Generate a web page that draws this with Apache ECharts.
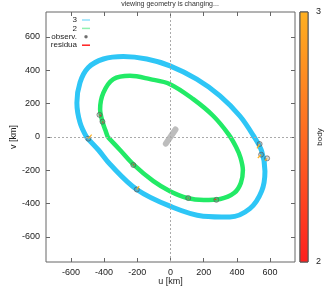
<!DOCTYPE html>
<html><head><meta charset="utf-8">
<script src="https://cdn.jsdelivr.net/npm/echarts@6/dist/echarts.min.js"></script>
<style>html,body{margin:0;padding:0;background:#fff}#c{width:327px;height:290px}</style>
</head><body><div id="c"></div>
<script>
const titleText = 'viewing geometry is changing...';
const tickValues = [-600, -400, -200, 0, 200, 400, 600];
const axisRange = [-750, 750];
const bodyTicks = [2, 3];
const bodyPalette = ['#ff1f1f', '#ff6a22', '#ffb020'];
// body 3 orbit band (u, v in km)
const body3U = [-504, -545, -564, -545, -495, -404, -284, -143, -3, 158, 298, 418, 498, 549, 569, 549, 478, 358, 197, -3, -203, -364, -434, -504];
const body3V = [-4, 86, 206, 327, 417, 468, 483, 468, 427, 347, 247, 126, 10, -84, -205, -325, -430, -480, -475, -415, -315, -164, -78, -4];
// body 2 orbit band
const body2U = [-378, -392, -410, -424, -404, -344, -244, -123, -3, 137, 258, 350, 395, 422, 436, 424, 385, 300, 200, 100, -3, -103, -224, -304, -378];
const body2V = [0, 40, 92, 166, 266, 347, 367, 347, 317, 227, 126, 16, -60, -125, -200, -275, -335, -372, -378, -366, -325, -265, -164, -78, 0];
// observations
const obsU = [-495, -203, 537, 546, 582, -428, -410, -224, 107, 276];
const obsV = [-10, -315, -42, -106, -128, 133, 92, -168, -366, -377];
const obsBody = [3, 3, 3, 3, 3, 2, 2, 2, 2, 2];
const resDU = [20, 14, -16, -20, -12, 8, 5, 4, 2, -10];
const resDV = [24, 20, -26, -20, -14, -5, -5, 4, -2, 5];
// primary body silhouette (elongated)
const primaryU = [-28, 30];
const primaryV = [-40, 45];

const zip = (a, b) => a.map((x, i) => [x, b[i]]);
const font = 'Liberation Sans, Arial, sans-serif';
const chart = echarts.init(document.getElementById('c'), null, {renderer: 'canvas'});

const mainAxisCommon = {
  type: 'value', min: axisRange[0], max: axisRange[1],
  splitLine: {show: false},
  axisLine: {show: false, onZero: false}
};
const tickStyle = {show: true, inside: true, length: 4, customValues: tickValues, lineStyle: {color: '#666'}};

chart.setOption({
  animation: false,
  backgroundColor: '#fff',
  title: {
    text: titleText, left: 170, top: 1, textAlign: 'center', padding: 0,
    textStyle: {fontSize: 7, fontWeight: 'normal', color: '#333', fontFamily: font}
  },
  legend: {
    orient: 'vertical', align: 'right', right: 237, top: 16, padding: 0,
    itemWidth: 8, itemHeight: 1.5, itemGap: 0.4,
    textStyle: {fontSize: 8, color: '#222', fontFamily: font, lineHeight: 8},
    data: [
      {name: '3', icon: 'rect', itemStyle: {color: '#8fe0fb'}},
      {name: '2', icon: 'rect', itemStyle: {color: '#8ff0b0'}},
      {name: 'observ.', icon: 'circle', itemStyle: {color: '#555'}},
      {name: 'residua', icon: 'rect', itemStyle: {color: '#ff2020'}}
    ],
    selectedMode: false
  },
  grid: [
    {left: 46, top: 12, width: 249, height: 250, outerBoundsMode: 'none', containLabel: false, show: true, borderColor: '#666', borderWidth: 1, backgroundColor: 'transparent'},
    {left: 300, top: 12, width: 8, height: 250, outerBoundsMode: 'none', containLabel: false, show: true, borderColor: '#555', borderWidth: 1, backgroundColor: 'transparent'}
  ],
  xAxis: [
    Object.assign({}, mainAxisCommon, {
      gridIndex: 0, position: 'bottom',
      name: 'u [km]', nameLocation: 'middle', nameGap: 15, nameMoveOverlap: false,
      nameTextStyle: {fontSize: 9, color: '#222', fontFamily: font},
      axisTick: tickStyle,
      axisLabel: {show: true, margin: 6, fontSize: 9, color: '#222', fontFamily: font, customValues: tickValues}
    }),
    Object.assign({}, mainAxisCommon, {
      gridIndex: 0, position: 'top', axisTick: tickStyle, axisLabel: {show: false}
    }),
    {type: 'value', gridIndex: 1, min: 0, max: 1, show: false}
  ],
  yAxis: [
    Object.assign({}, mainAxisCommon, {
      gridIndex: 0, position: 'left',
      name: 'v [km]', nameLocation: 'middle', nameGap: 28, nameRotate: 90, nameMoveOverlap: false,
      nameTextStyle: {fontSize: 9, color: '#222', fontFamily: font},
      axisTick: tickStyle,
      axisLabel: {show: true, margin: 6, fontSize: 9, color: '#222', fontFamily: font, customValues: tickValues}
    }),
    Object.assign({}, mainAxisCommon, {
      gridIndex: 0, position: 'right', axisTick: tickStyle, axisLabel: {show: false}
    }),
    {
      type: 'value', gridIndex: 1, position: 'right', min: bodyTicks[0], max: bodyTicks[1], interval: 1,
      splitLine: {show: false}, axisLine: {show: false, onZero: false}, axisTick: {show: false},
      axisLabel: {show: true, margin: 8, fontSize: 9, color: '#222', fontFamily: font},
      name: 'body', nameLocation: 'middle', nameGap: 8, nameRotate: 90, nameMoveOverlap: false,
      nameTextStyle: {fontSize: 8, color: '#222', fontFamily: font}
    }
  ],
  series: [
    {
      name: '3', type: 'line', xAxisIndex: 0, yAxisIndex: 0, data: zip(body3U, body3V),
      smooth: 0.35, showSymbol: false, symbol: 'none', z: 2,
      lineStyle: {color: '#2ec6f6', width: 5},
      markLine: {
        silent: true, symbol: 'none', label: {show: false},
        lineStyle: {color: '#aaa', type: [2, 2], width: 1},
        data: [{xAxis: 0}, {yAxis: 0}]
      }
    },
    {
      name: '2', type: 'line', xAxisIndex: 0, yAxisIndex: 0, data: zip(body2U, body2V),
      smooth: 0.35, showSymbol: false, symbol: 'none', z: 3,
      lineStyle: {color: '#22ea66', width: 4.5}
    },
    {
      name: 'primary', type: 'line', xAxisIndex: 0, yAxisIndex: 0, data: zip(primaryU, primaryV),
      showSymbol: false, symbol: 'none', z: 3,
      lineStyle: {color: '#bdbdbd', width: 6, cap: 'round'}
    },
    {
      name: 'observ.', type: 'scatter', xAxisIndex: 0, yAxisIndex: 0, data: zip(obsU, obsV),
      symbol: 'circle', symbolSize: 5, z: 4,
      itemStyle: {color: 'rgba(120,120,120,0.35)', borderColor: '#555', borderWidth: 0.8}
    },
    {
      name: 'residua', type: 'custom', xAxisIndex: 0, yAxisIndex: 0, z: 5,
      data: obsU.map((u, i) => [u, obsV[i], resDU[i], resDV[i], obsBody[i]]),
      encode: {x: 0, y: 1},
      renderItem: function (params, api) {
        const p0 = api.coord([api.value(0), api.value(1)]);
        const p1 = api.coord([api.value(0) + api.value(2), api.value(1) + api.value(3)]);
        const body = api.value(4);
        const col = body >= bodyTicks[1] ? bodyPalette[2] : bodyPalette[0];
        return {
          type: 'line',
          shape: {x1: p0[0], y1: p0[1], x2: p1[0], y2: p1[1]},
          style: {stroke: col, lineWidth: 1.2}
        };
      }
    },
    {
      name: 'colorbar', type: 'custom', xAxisIndex: 2, yAxisIndex: 2, silent: true, z: 1,
      data: [[0.5, bodyTicks[0], bodyTicks[1]]],
      encode: {x: 0, y: [1, 2]},
      renderItem: function (params, api) {
        const cs = params.coordSys;
        const top = api.coord([api.value(0), api.value(2)]);
        const bot = api.coord([api.value(0), api.value(1)]);
        return {
          type: 'rect',
          shape: {x: cs.x, y: top[1], width: cs.width, height: bot[1] - top[1]},
          style: {
            fill: new echarts.graphic.LinearGradient(0, 0, 0, 1, [
              {offset: 0, color: bodyPalette[2]},
              {offset: 0.5, color: bodyPalette[1]},
              {offset: 1, color: bodyPalette[0]}
            ]),
            stroke: '#555', lineWidth: 1
          }
        };
      }
    }
  ]
});
</script></body></html>
